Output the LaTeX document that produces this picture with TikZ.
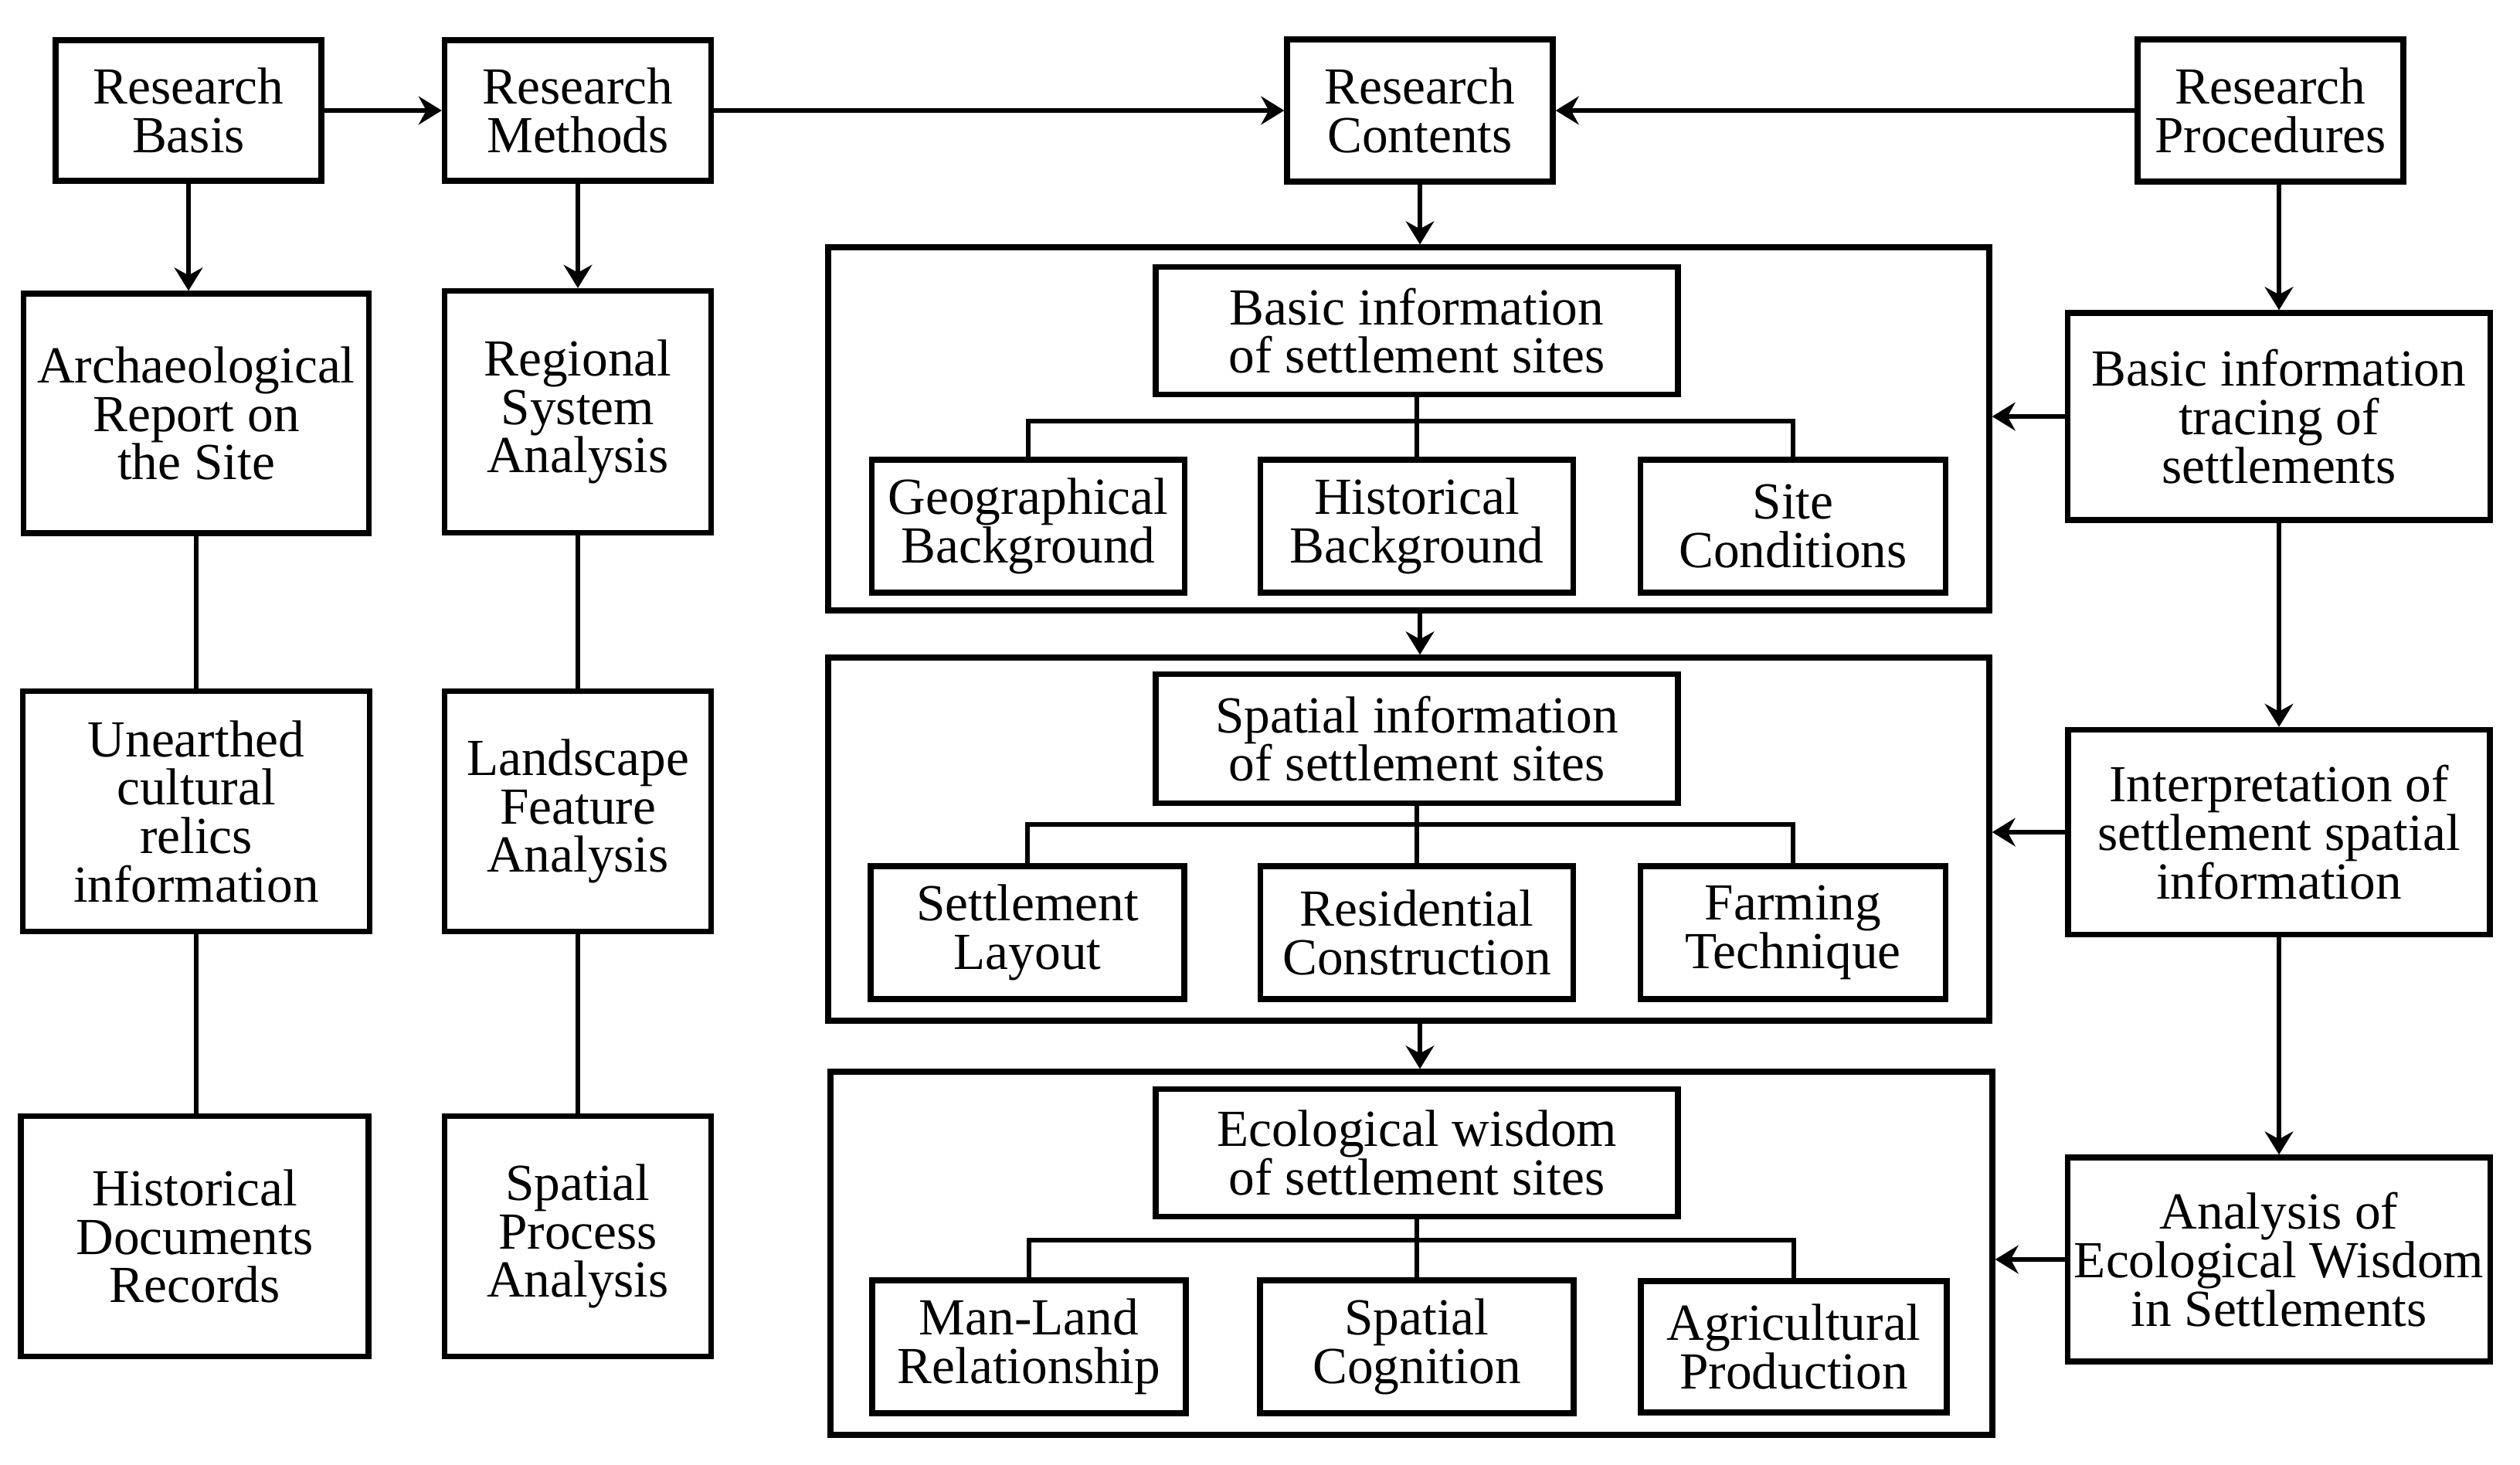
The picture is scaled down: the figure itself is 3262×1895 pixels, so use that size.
\documentclass[tikz,border=0pt]{standalone}
\usepackage{fontspec}
\setmainfont{Liberation Serif}
\usetikzlibrary{arrows.meta}
\begin{document}
\begin{tikzpicture}[x=0.3pt,y=-0.3pt,
  box/.style={draw, line width=2.2pt, inner sep=0pt, align=center, font=\fontsize{20.2}{18.8}\selectfont},
  frame/.style={draw, line width=2.2pt, inner sep=0pt},
  sz/.style 2 args={minimum width=#1*0.3pt, minimum height=#2*0.3pt},
  conn/.style={line width=2pt},
  arr/.style={line width=2pt, -{Stealth[length=9pt,width=11pt,inset=3pt]}}]
\useasboundingbox (0,0) rectangle (3262,1895);

% top row
\node[box,sz={344}{182}] (rb) at (244,143) {Research\\Basis};
\node[box,sz={345}{182}] (rm) at (748,143) {Research\\Methods};
\node[box,sz={344}{184}] (rc) at (1838,143) {Research\\Contents};
\node[box,sz={344}{184}] (rp) at (2939,143) {Research\\Procedures};

% left columns
\node[box,sz={447}{310}] (arch) at (254,535) {Archaeological\\Report on\\the Site};
\node[box,sz={449}{311}] (une) at (254,1050) {Unearthed\\cultural\\relics\\information};
\node[box,sz={450}{311}] (hdoc) at (252,1600) {Historical\\Documents\\Records};
\node[box,sz={345}{313}] (reg) at (748,533) {Regional\\System\\Analysis};
\node[box,sz={345}{311}] (land) at (748,1050) {Landscape\\Feature\\Analysis};
\node[box,sz={345}{311}] (sproc) at (748,1600) {Spatial\\Process\\Analysis};

% containers
\node[frame,sz={1503}{470}] (c1) at (1823.5,555) {};
\node[frame,sz={1503}{470}] (c2) at (1823.5,1086) {};
\node[frame,sz={1504}{470}] (c3) at (1827,1622) {};

% container 1
\node[box,sz={676}{165}] (bi) at (1834,428) {Basic information\\of settlement sites};
\node[box,sz={405}{172}] (geo) at (1331,681) {Geographical\\Background};
\node[box,sz={405}{172}] (hist) at (1834,681) {Historical\\Background};
\node[box,sz={395}{172}] (site) at (2321,681) {Site\\Conditions};
\coordinate (j1) at (1834,545);

% container 2
\node[box,sz={676}{167}] (si) at (1834,956) {Spatial information\\of settlement sites};
\node[box,sz={406}{172}] (sl) at (1330,1207) {Settlement\\Layout};
\node[box,sz={405}{172}] (res) at (1834,1207) {Residential\\Construction};
\node[box,sz={395}{172}] (farm) at (2321,1207) {Farming\\Technique};
\coordinate (j2) at (1834,1067);

% container 3
\node[box,sz={676}{165}] (eco) at (1834,1492) {Ecological wisdom\\of settlement sites};
\node[box,sz={406}{172}] (ml) at (1332,1743) {Man-Land\\Relationship};
\node[box,sz={406}{172}] (cog) at (1834,1743) {Spatial\\Cognition};
\node[box,sz={396}{170}] (agr) at (2322,1743) {Agricultural\\Production};
\coordinate (j3) at (1834,1605);

% right column
\node[box,sz={547}{268}] (tr) at (2950,539) {Basic information\\tracing of\\settlements};
\node[box,sz={546}{265}] (int) at (2950,1077) {Interpretation of\\settlement spatial\\information};
\node[box,sz={547}{264}] (ana) at (2950,1630) {Analysis of\\Ecological Wisdom\\in Settlements};

% top arrows
\draw[arr] (rb) -- (rm);
\draw[arr] (rm) -- (rc);
\draw[arr] (rp) -- (rc);

% left columns
\draw[arr] (rb.south) -- (rb.south |- arch.north);
\draw[conn] (arch) -- (une);
\draw[conn] (une.south) -- (une.south |- hdoc.north);
\draw[arr] (rm) -- (reg);
\draw[conn] (reg) -- (land);
\draw[conn] (land) -- (sproc);

% middle
\draw[arr] (rc) -- (rc |- c1.north);
\draw[arr] (c1.south -| rc) -- (c2.north -| rc);
\draw[arr] (c2.south -| rc) -- (c3.north -| rc);

\draw[conn] (bi) -- (j1);
\draw[conn] (geo.north) |- (j1) -| (site.north);
\draw[conn] (j1) -- (hist.north);
\draw[conn] (si) -- (j2);
\draw[conn] (sl.north) |- (j2) -| (farm.north);
\draw[conn] (j2) -- (res.north);
\draw[conn] (eco) -- (j3);
\draw[conn] (ml.north) |- (j3) -| (agr.north);
\draw[conn] (j3) -- (cog.north);

% right column
\draw[arr] (tr.north |- rp.south) -- (tr.north);
\draw[arr] (tr) -- (int);
\draw[arr] (int) -- (ana);
\draw[arr] (tr.west) -- (tr.west -| c1.east);
\draw[arr] (int.west) -- (int.west -| c2.east);
\draw[arr] (ana.west) -- (ana.west -| c3.east);
\end{tikzpicture}
\end{document}
